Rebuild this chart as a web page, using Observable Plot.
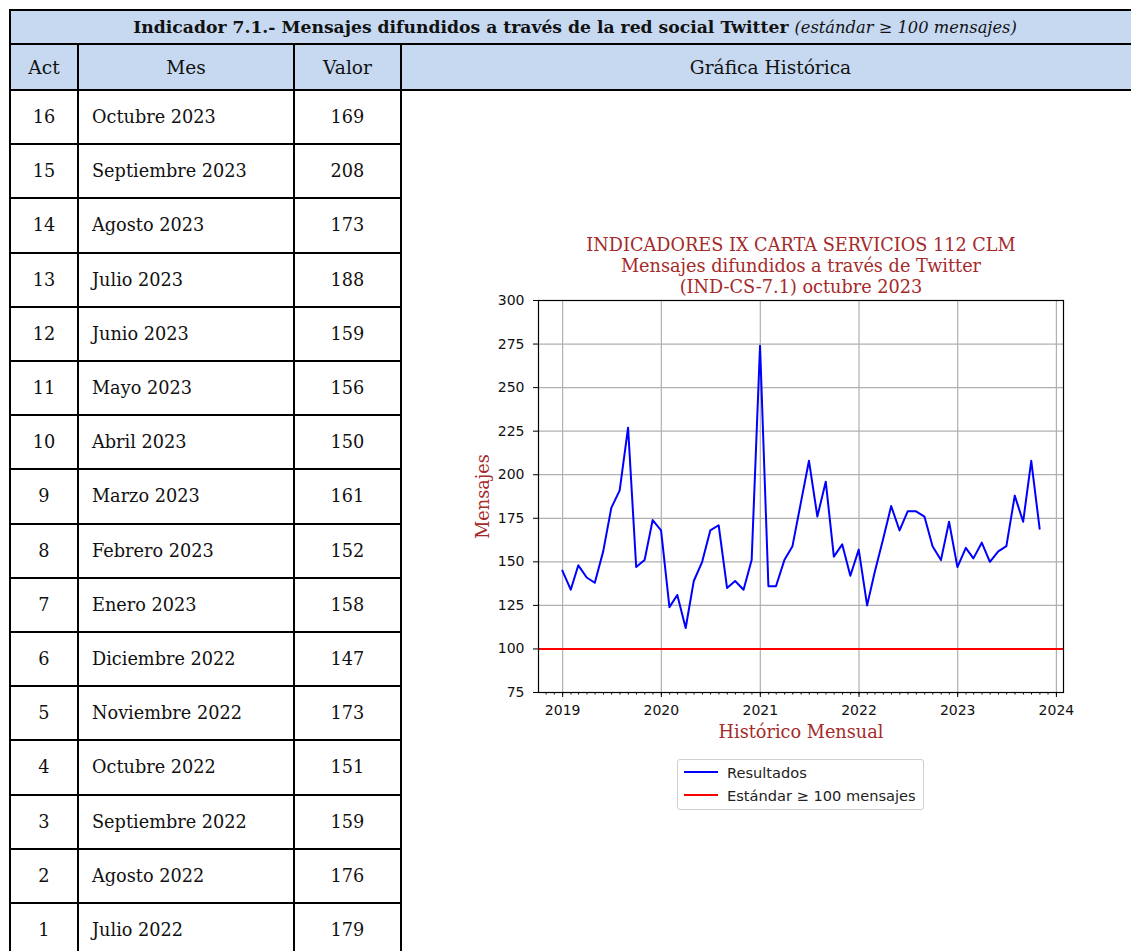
<!DOCTYPE html>
<html>
<head>
<meta charset="utf-8">
<script src="https://cdn.jsdelivr.net/npm/d3@7"></script>
<script src="https://cdn.jsdelivr.net/npm/@observablehq/plot@0.6"></script>
<style>
  html, body { margin: 0; padding: 0; background: #fff; }
  body { width: 1131px; height: 951px; overflow: hidden; position: relative; font-family: "DejaVu Serif", serif; color: #111; }
  .cell { position: absolute; box-sizing: border-box; border: 2px solid #000; display: flex; align-items: center; justify-content: center; font-size: 17.7px; white-space: nowrap; }
  .blue { background: #c6d9f1; }
  .head { font-size: 18.6px; }
  .left { justify-content: flex-start; padding-left: 13px; }
  #title b { font-weight: bold; font-size: 17.2px; }
  #title i { font-style: italic; font-size: 16.3px; margin-left: 6px; }
  #chart { position: absolute; left: 420px; top: 225px; }
  #legend { position: absolute; left: 677px; top: 759px; width: 247px; height: 51px; box-sizing: border-box; border: 1px solid #d0d0d0; border-radius: 3px; background: #fff; font-family: "DejaVu Sans", sans-serif; font-size: 14.6px; color: #222; }
  #legend .item { position: absolute; left: 6px; height: 18px; display: flex; align-items: center; }
  #legend .sw { display: inline-block; width: 34px; height: 2px; margin-right: 9px; }
</style>
</head>
<body>
<div id="table"></div>
<div id="chart"></div>
<div id="legend"></div>
<script>
// ---------- Table data ----------
const titleMain = "Indicador 7.1.- Mensajes difundidos a través de la red social Twitter";
const titleNote = "(estándar ≥ 100 mensajes)";
const headers = ["Act", "Mes", "Valor", "Gráfica Histórica"];
const acts = [16, 15, 14, 13, 12, 11, 10, 9, 8, 7, 6, 5, 4, 3, 2, 1];
const meses = ["Octubre 2023", "Septiembre 2023", "Agosto 2023", "Julio 2023", "Junio 2023", "Mayo 2023",
  "Abril 2023", "Marzo 2023", "Febrero 2023", "Enero 2023", "Diciembre 2022", "Noviembre 2022",
  "Octubre 2022", "Septiembre 2022", "Agosto 2022", "Julio 2022"];
const valores = [169, 208, 173, 188, 159, 156, 150, 161, 152, 158, 147, 173, 151, 159, 176, 179];

// ---------- Chart data ----------
const chartTitle = ["INDICADORES IX CARTA SERVICIOS 112 CLM", "Mensajes difundidos a través de Twitter", "(IND-CS-7.1) octubre 2023"];
const yLabel = "Mensajes";
const xLabel = "Histórico Mensual";
const legendLabels = ["Resultados", "Estándar ≥ 100 mensajes"];
const estandar = 100;
const yTicks = [75, 100, 125, 150, 175, 200, 225, 250, 275, 300];
const yearTicks = [2019, 2020, 2021, 2022, 2023, 2024];
const serieMeses = [
  "2018-12",
  "2019-01","2019-02","2019-03","2019-04","2019-05","2019-06","2019-07","2019-08","2019-09","2019-10","2019-11","2019-12",
  "2020-01","2020-02","2020-03","2020-04","2020-05","2020-06","2020-07","2020-08","2020-09","2020-10","2020-11","2020-12",
  "2021-01","2021-02","2021-03","2021-04","2021-05","2021-06","2021-07","2021-08","2021-09","2021-10","2021-11","2021-12",
  "2022-01","2022-02","2022-03","2022-04","2022-05","2022-06","2022-07","2022-08","2022-09","2022-10","2022-11","2022-12",
  "2023-01","2023-02","2023-03","2023-04","2023-05","2023-06","2023-07","2023-08","2023-09","2023-10"
];
const serieValores = [
  145,
  134, 148, 141, 138, 156, 181, 191, 227, 147, 151, 174, 168,
  124, 131, 112, 139, 150, 168, 171, 135, 139, 134, 151, 274,
  136, 136, 151, 159, 184, 208, 176, 196, 153, 160, 142, 157,
  125, 144, 163, 182, 168, 179, 179, 176, 159, 151, 173, 147,
  158, 152, 161, 150, 156, 159, 188, 173, 208, 169
];

// ---------- Build table ----------
const colX = [10, 78, 294, 401, 1140];
const rowY = [10, 44, 90];
const rowH = 54.2;
const table = document.getElementById("table");
function cell(x0, y0, x1, y1, cls, html) {
  const d = document.createElement("div");
  d.className = "cell " + (cls || "");
  d.style.left = (x0 - 1) + "px";
  d.style.top = (y0 - 1) + "px";
  d.style.width = (x1 - x0 + 2) + "px";
  d.style.height = (y1 - y0 + 2) + "px";
  if (html != null) d.innerHTML = html;
  table.appendChild(d);
  return d;
}
const t = cell(colX[0], rowY[0], colX[4], rowY[1], "blue", "");
t.id = "title";
const b = document.createElement("b"); b.textContent = titleMain; t.appendChild(b);
const it = document.createElement("i"); it.textContent = titleNote; t.appendChild(it);
headers.forEach((h, i) => cell(colX[i], rowY[1], colX[i + 1], rowY[2], "blue head", "").textContent = h);
acts.forEach((a, i) => {
  const y0 = rowY[2] + i * rowH, y1 = y0 + rowH;
  cell(colX[0], y0, colX[1], y1, "").textContent = a;
  cell(colX[1], y0, colX[2], y1, "left").textContent = meses[i];
  cell(colX[2], y0, colX[3], y1, "").textContent = valores[i];
});
cell(colX[3], rowY[2], colX[4], rowY[2] + acts.length * rowH, "", "");

// ---------- Chart ----------
const monthEnd = s => { const [y, m] = s.split("-").map(Number); return new Date(Date.UTC(y, m, 0)); };
const data = serieMeses.map((m, i) => ({date: monthEnd(m), value: serieValores[i]}));
const d0 = data[0].date, d1 = data[data.length - 1].date;
const pad = (d1 - d0) * 0.05;
const xDomain = [new Date(+d0 - pad), new Date(+d1 + pad)];
const yearDates = yearTicks.map(y => new Date(Date.UTC(y, 0, 1)));
const minorDates = d3.utcMonths(xDomain[0], xDomain[1]);
const brown = "#a52a2a";
const serifFont = "DejaVu Serif";

const plot = Plot.plot({
  width: 700,
  height: 600,
  marginLeft: 118,
  marginRight: 57,
  marginTop: 75,
  marginBottom: 133,
  style: {fontFamily: "DejaVu Sans", fontSize: "14px", color: "#000", background: "transparent", overflow: "visible"},
  x: {type: "utc", domain: xDomain},
  y: {domain: [75, 300]},
  marks: [
    Plot.gridX(yearDates, {stroke: "#b0b0b0", strokeOpacity: 1, strokeWidth: 1.2}),
    Plot.gridY(yTicks, {stroke: "#b0b0b0", strokeOpacity: 1, strokeWidth: 1.2}),
    Plot.ruleY([estandar], {stroke: "#ff0000", strokeWidth: 2}),
    Plot.lineY(data, {x: "date", y: "value", stroke: "#0000ff", strokeWidth: 2}),
    Plot.frame({stroke: "#000", strokeWidth: 1.2}),
    Plot.axisY(yTicks, {tickSize: 5, tickPadding: 9, label: null, fill: "#111", fontSize: 14}),
    Plot.axisX(yearDates, {tickSize: 5, tickPadding: 8, tickFormat: "%Y", label: null, fill: "#111", fontSize: 14}),
    Plot.axisX(minorDates, {tickSize: 2.5, tickFormat: () => "", label: null}),
    Plot.text([chartTitle.join("\n")], {frameAnchor: "top", lineAnchor: "bottom", dy: -8, lineHeight: 21 / 17.7, fontSize: 17.7, fontFamily: serifFont, fill: brown}),
    Plot.text([yLabel], {frameAnchor: "left", textAnchor: "middle", rotate: -90, dx: -55, fontSize: 17.7, fontFamily: serifFont, fill: brown}),
    Plot.text([xLabel], {frameAnchor: "bottom", dy: 45, fontSize: 17.7, fontFamily: serifFont, fill: brown})
  ]
});
document.getElementById("chart").appendChild(plot);

// ---------- Legend ----------
const legend = document.getElementById("legend");
const legendColors = ["#0000ff", "#ff0000"];
legendLabels.forEach((l, i) => {
  const d = document.createElement("div");
  d.className = "item";
  d.style.top = (3 + i * 23) + "px";
  const s = document.createElement("span");
  s.className = "sw"; s.style.background = legendColors[i];
  d.appendChild(s);
  d.appendChild(document.createTextNode(l));
  legend.appendChild(d);
});
</script>
</body>
</html>
